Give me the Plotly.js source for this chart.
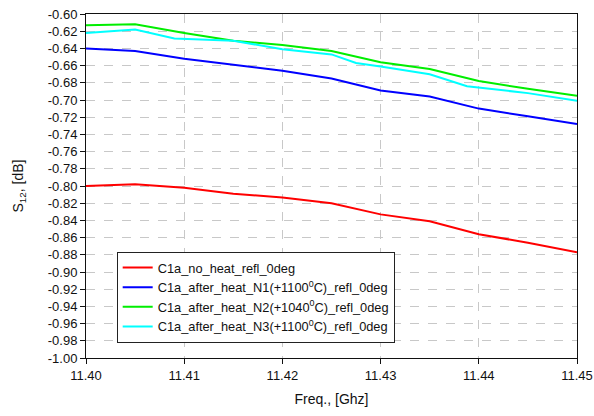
<!DOCTYPE html>
<html>
<head>
<meta charset="utf-8">
<script src="https://cdn.plot.ly/plotly-3.0.1.min.js"></script>
<style>html,body{margin:0;padding:0;background:#fff;}#chart{width:594px;height:416px;}</style>
</head>
<body>
<div id="chart"></div>
<script>
// Data
const freqStd = [11.400, 11.405, 11.410, 11.415, 11.420, 11.425, 11.430, 11.435, 11.440, 11.445, 11.450];
const noHeat = [-0.800, -0.798, -0.802, -0.809, -0.8135, -0.820, -0.833, -0.841, -0.856, -0.866, -0.877];
const heatN1 = [-0.640, -0.643, -0.652, -0.659, -0.666, -0.675, -0.689, -0.696, -0.710, -0.719, -0.728];
const freqN2 = [11.400, 11.405, 11.410, 11.415, 11.420, 11.425, 11.430, 11.435, 11.440, 11.445, 11.450];
const heatN2 = [-0.613, -0.612, -0.622, -0.631, -0.636, -0.643, -0.656, -0.664, -0.678, -0.687, -0.695];
const freqN3 = [11.400, 11.405, 11.409, 11.415, 11.420, 11.425, 11.4275, 11.430, 11.435, 11.4388, 11.445, 11.450];
const heatN3 = [-0.622, -0.618, -0.6285, -0.631, -0.641, -0.647, -0.657, -0.661, -0.670, -0.684, -0.692, -0.701];
const seriesNames = [
  'C1a_no_heat_refl_0deg',
  'C1a_after_heat_N1(+1100<sup>0</sup>C)_refl_0deg',
  'C1a_after_heat_N2(+1040<sup>0</sup>C)_refl_0deg',
  'C1a_after_heat_N3(+1100<sup>0</sup>C)_refl_0deg'
];
const seriesColors = ['#ff0000', '#0000ff', '#00ee00', '#00ffff'];
const xTicks = [11.40, 11.41, 11.42, 11.43, 11.44, 11.45];
const yTicks = [];
for (let v = -100; v <= -60; v += 2) yTicks.push(v / 100);

const xs = [freqStd, freqStd, freqN2, freqN3];
const ys = [noHeat, heatN1, heatN2, heatN3];
const traces = ys.map((y, i) => ({
  x: xs[i], y: y, type: 'scatter', mode: 'lines', name: seriesNames[i],
  line: {color: seriesColors[i], width: 2}
}));

const fontFam = '"Liberation Sans", Arial, sans-serif';
const layout = {
  width: 594, height: 416,
  margin: {l: 86, r: 16.5, t: 14, b: 58},
  paper_bgcolor: '#fff', plot_bgcolor: '#fff',
  font: {family: fontFam, size: 12, color: '#111'},
  showlegend: true,
  legend: {
    x: 0.0625, y: 0.309, xanchor: 'left', yanchor: 'top',
    bgcolor: '#fff', bordercolor: '#222', borderwidth: 1,
    font: {family: fontFam, size: 12.8, color: '#111'},
    tracegroupgap: 0, itemwidth: 30
  },
  xaxis: {
    range: [11.40, 11.45], tickvals: xTicks, ticktext: xTicks.map(v => v.toFixed(2)),
    showgrid: true, gridcolor: '#c8c8c8', griddash: 'dash', gridwidth: 1,
    zeroline: false, showline: true, linecolor: '#111', linewidth: 1, mirror: true,
    ticks: 'outside', ticklen: 5, tickcolor: '#111',
    tickfont: {family: fontFam, size: 13, color: '#111'},
    title: {text: 'Freq., [Ghz]', font: {family: fontFam, size: 14, color: '#111'}, standoff: 12}
  },
  yaxis: {
    range: [-1.00, -0.60], tickvals: yTicks, ticktext: yTicks.map(v => v.toFixed(2)),
    showgrid: true, gridcolor: '#c8c8c8', griddash: 'dash', gridwidth: 1,
    zeroline: false, showline: true, linecolor: '#111', linewidth: 1, mirror: true,
    ticks: 'outside', ticklen: 5, tickcolor: '#111',
    tickfont: {family: fontFam, size: 13, color: '#111'},
    title: {text: 'S<sub>12</sub>, [dB]', font: {family: fontFam, size: 14, color: '#111'}, standoff: 20}
  }
};
Plotly.newPlot('chart', traces, layout, {displayModeBar: false, staticPlot: true});
</script>
</body>
</html>
